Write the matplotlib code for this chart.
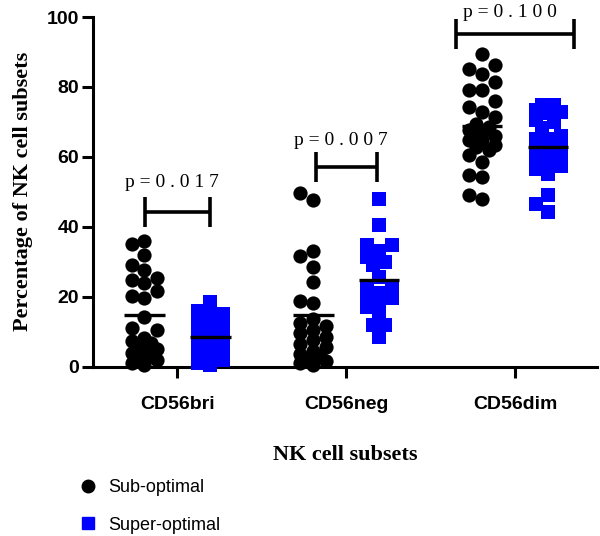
import numpy as np
import matplotlib
matplotlib.use("Agg")
import matplotlib.pyplot as plt
from matplotlib.lines import Line2D

# ── Data ─────────────────────────────────────────────────────────
subsets = ["CD56bri", "CD56neg", "CD56dim"]
group_names = ["Sub-optimal", "Super-optimal"]

bri_sub = [35.8, 35.1, 31.9, 29.1, 27.7, 25.3, 24.8, 23.9, 21.5, 19.6, 20.1,
           14.3, 10.5, 11.0, 8.1, 6.7, 7.2, 3.9, 4.3, 2.9, 0.5, 5.0, 3.0, 2.0,
           6.0, 1.0]
bri_super = [18.5, 16.0, 15.0, 14.5, 13.0, 12.0, 11.5, 11.0, 10.5, 10.0, 9.5,
             9.0, 8.5, 8.0, 7.5, 7.0, 6.5, 6.0, 5.0, 4.5, 4.0, 3.0, 2.0, 1.0,
             0.5]
neg_sub = [49.5, 47.6, 31.6, 33.1, 28.5, 24.2, 18.8, 18.1, 13.5, 12.5, 11.5,
           10.5, 9.5, 8.5, 7.5, 6.5, 5.5, 4.5, 3.5, 3.0, 2.5, 1.5, 1.0, 0.5]
neg_super = [47.8, 40.4, 34.7, 34.7, 33.0, 31.4, 30.0, 29.0, 25.7, 23.0, 22.5,
             21.0, 20.0, 19.5, 18.0, 17.0, 14.2, 12.0, 12.0, 8.5]
dim_sub = [89.3, 86.4, 85.2, 83.8, 81.4, 79.0, 79.0, 76.0, 74.2, 72.8, 71.4,
           69.5, 68.5, 67.6, 66.7, 66.0, 64.7, 64.7, 62.8, 61.9, 58.5, 54.7,
           54.2, 49.0, 47.8, 65.5, 63.5, 60.5]
dim_super = [74.7, 74.7, 73.5, 72.8, 72.5, 70.5, 69.9, 68.1, 66.0, 65.2, 65.2,
             63.0, 62.0, 61.0, 60.0, 59.5, 58.5, 57.5, 56.5, 55.0, 49.0, 46.6,
             44.2]

sub_values = [bri_sub, neg_sub, dim_sub]
super_values = [bri_super, neg_super, dim_super]
p_values = ["0.017", "0.007", "0.100"]
yticks = [0, 20, 40, 60, 80, 100]

# ── Layout helpers ───────────────────────────────────────────────
PX_X = 169.0   # pixels per category unit
PX_Y = 3.5     # pixels per percentage point
SERIF = "Liberation Serif"
SANS = "Liberation Sans"


def swarm(values, d=13.0, max_cols=2):
    # simple beeswarm: place points low→high, nudge sideways to avoid overlap
    values = np.asarray(values, dtype=float)
    steps = [0]
    for k in range(1, max_cols + 1):
        steps += [-k, k]
    placed, xs = [], np.zeros(len(values))
    for i in np.argsort(values):
        y = values[i] * PX_Y
        best, best_gap = 0.0, -1.0
        for s in steps:
            x = s * d / 2
            gap = min((np.hypot(x - px, y - py) for px, py in placed), default=1e9)
            if gap >= d:
                best = x
                break
            if gap > best_gap:
                best_gap, best = gap, x
        placed.append((best, y))
        xs[i] = best / PX_X
    return xs


fig = plt.figure(figsize=(6.0, 5.36), dpi=100)
ax = fig.add_axes([93 / 600, 1 - 366.5 / 536, 504 / 600, 349.5 / 536])

centers = np.arange(len(subsets))
offset = 0.195
for c, sv, pv in zip(centers, sub_values, super_values):
    for vals, dx, mk, col, size in [(sv, -offset, "o", "black", 105),
                                    (pv, offset, "s", "#0000ff", 90)]:
        xs = swarm(vals, d=13.0 if mk == "o" else 12.5)
        ax.scatter(c + dx + xs, vals, s=size, marker=mk, color=col,
                   linewidths=0, clip_on=False, zorder=3)
        m = np.mean(vals)
        ax.plot([c + dx - 0.12, c + dx + 0.12], [m, m], color="black",
                lw=2.4, solid_capstyle="butt", zorder=4)

# significance brackets
bracket_y = [44.2, 57.1, 95.2]
bracket_half = [0.19, 0.18, 0.35]
text_y = [52.7, 64.7, 101.3]
for c, by, hw, ty, p in zip(centers, bracket_y, bracket_half, text_y, p_values):
    x0, x1 = c - hw, c + hw
    kw = dict(color="black", lw=2.6, solid_capstyle="butt", clip_on=False,
              zorder=5)
    ax.plot([x0, x1], [by, by], **kw)
    ax.plot([x0, x0], [by - 4.3, by + 4.3], **kw)
    ax.plot([x1, x1], [by - 4.3, by + 4.3], **kw)
    ax.text(c - 0.03, ty, "p = " + " ".join(p), ha="center", va="center",
            fontsize=14, family=SERIF, clip_on=False)

# axes styling
ax.set_xlim(-0.5, 2.485)
ax.set_ylim(0, 100)
ax.set_yticks(yticks)
ax.set_yticklabels([str(t) for t in yticks], fontsize=14, fontweight="bold",
                   family=SANS)
ax.set_xticks(centers)
ax.set_xticklabels(subsets, fontsize=14, fontweight="bold", family=SANS)
ax.tick_params(axis="y", length=8, width=2.2, pad=2)
ax.tick_params(axis="x", length=8, width=2.2, pad=13)
for side in ["top", "right"]:
    ax.spines[side].set_visible(False)
for side in ["left", "bottom"]:
    ax.spines[side].set_linewidth(2.2)

ax.set_xlabel("NK cell subsets", fontsize=16, fontweight="bold", family=SERIF,
              labelpad=23)
ax.set_ylabel("Percentage of NK cell subsets", fontsize=16, fontweight="bold",
              family=SERIF, labelpad=10)

handles = [
    Line2D([], [], ls="none", marker="o", color="black", markersize=9),
    Line2D([], [], ls="none", marker="s", color="#0000ff", markersize=8.5),
]
fig.legend(handles, group_names, loc="upper left",
           bbox_to_anchor=(70 / 600, 1 - 470 / 536), frameon=False,
           prop={"family": SANS, "size": 13}, handletextpad=0.6,
           labelspacing=1.15, handlelength=1.0, borderpad=0)

fig.savefig("out.png", dpi=100)
